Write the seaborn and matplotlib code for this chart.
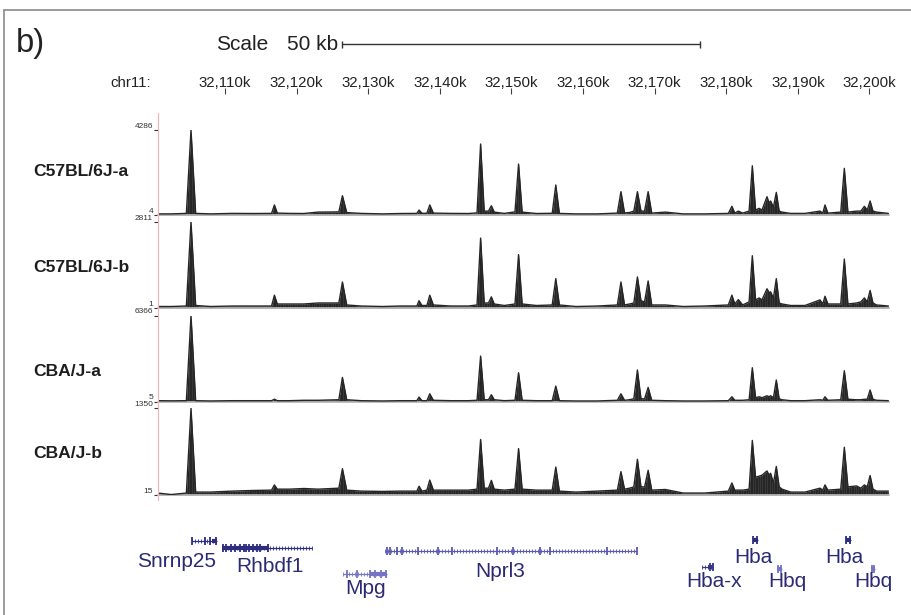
import numpy as np
import matplotlib
matplotlib.use("Agg")
import matplotlib.pyplot as plt
import seaborn as sns
from matplotlib.lines import Line2D

sns.set_theme(style="white")
plt.rcParams["font.family"] = ["Liberation Sans", "DejaVu Sans"]

# ---------------- data ----------------
# coverage profile knots along chr11 (kb)
pos_kb = [32100.6, 32102.5, 32104.6, 32105.25, 32105.9, 32108.0, 32111.0, 32114.0,
          32116.5, 32116.9, 32117.3, 32119.0, 32121.0, 32123.0, 32125.9, 32126.4,
          32127.0, 32129.0, 32132.0, 32134.5, 32136.8, 32137.1, 32137.5, 32138.2,
          32138.6, 32139.1, 32141.5, 32144.0, 32145.2, 32145.7, 32146.2, 32146.8,
          32147.2, 32147.6, 32149.0, 32150.5, 32151.0, 32151.5, 32153.5, 32155.7,
          32156.2, 32156.7, 32159.0, 32162.0, 32164.8, 32165.3, 32165.8, 32166.5,
          32167.1, 32167.6, 32168.1, 32168.6, 32169.1, 32169.6, 32171.5, 32174.0,
          32177.0, 32180.3, 32180.8, 32181.2, 32181.7, 32182.3, 32183.2, 32183.65,
          32184.1, 32184.6, 32185.0, 32185.7, 32186.0, 32186.2, 32186.6, 32187.0,
          32187.4, 32187.8, 32189.0, 32191.0, 32193.1, 32193.5, 32193.8, 32194.2,
          32196.0, 32196.5, 32197.0, 32198.2, 32198.8, 32199.3, 32199.7, 32200.1,
          32200.5, 32201.0, 32202.65]

c57_a = [60, 60, 85, 4286, 85, 60, 85, 80,
         85, 510, 100, 85, 80, 150, 160, 975,
         125, 85, 60, 80, 85, 255, 90, 90,
         510, 100, 85, 80, 110, 3580, 200, 200,
         470, 150, 85, 160, 2570, 150, 80, 90,
         1515, 85, 60, 60, 100, 1180, 110, 130,
         200, 1180, 200, 200, 1180, 100, 150, 60,
         60, 85, 440, 100, 200, 100, 200, 2485,
         250, 340, 250, 925, 600, 710, 400, 1145,
         200, 150, 85, 85, 200, 100, 510, 100,
         150, 2355, 150, 200, 200, 440, 250, 710,
         200, 150, 85]

c57_b = [50, 50, 66, 2811, 83, 50, 66, 66,
         66, 420, 132, 132, 132, 165, 165, 850,
         100, 66, 50, 66, 66, 240, 83, 83,
         420, 100, 66, 66, 100, 2285, 165, 165,
         365, 132, 83, 132, 1745, 132, 83, 100,
         960, 100, 50, 66, 100, 850, 100, 132,
         165, 1015, 240, 200, 885, 100, 100, 50,
         66, 100, 420, 132, 275, 100, 200, 1710,
         265, 330, 265, 630, 500, 530, 330, 960,
         165, 132, 83, 83, 265, 132, 385, 132,
         132, 1600, 132, 165, 200, 330, 200, 575,
         165, 100, 66]

cba_a = [80, 70, 80, 6366, 80, 60, 80, 80,
         80, 190, 80, 80, 110, 110, 150, 1800,
         150, 80, 60, 80, 80, 350, 80, 80,
         590, 110, 80, 80, 110, 3380, 150, 150,
         520, 150, 80, 110, 2145, 110, 80, 80,
         1160, 80, 60, 60, 110, 590, 110, 150,
         220, 2350, 220, 220, 1060, 110, 80, 60,
         60, 80, 370, 110, 110, 110, 150, 2520,
         300, 370, 300, 445, 370, 445, 300, 1610,
         220, 150, 80, 80, 150, 110, 370, 110,
         150, 2295, 185, 150, 150, 185, 185, 870,
         185, 110, 80]

cba_b = [45, 22, 45, 1350, 60, 60, 75, 85,
         90, 170, 105, 105, 115, 105, 120, 420,
         90, 75, 70, 75, 75, 150, 75, 90,
         245, 90, 90, 90, 105, 870, 120, 120,
         240, 105, 90, 105, 730, 105, 90, 90,
         445, 75, 60, 75, 90, 375, 105, 120,
         140, 565, 140, 140, 395, 90, 100, 45,
         45, 75, 200, 90, 90, 90, 105, 855,
         290, 305, 320, 385, 320, 350, 200, 455,
         140, 105, 60, 60, 120, 90, 170, 90,
         105, 750, 140, 155, 120, 170, 140, 315,
         105, 75, 75]

track_names = ["C57BL/6J-a", "C57BL/6J-b", "CBA/J-a", "CBA/J-b"]
track_values = [c57_a, c57_b, cba_a, cba_b]
track_min = [4, 1, 5, 15]
track_max = [4286, 2811, 6366, 1350]

tick_kb = [32110, 32120, 32130, 32140, 32150, 32160, 32170, 32180, 32190, 32200]
tick_labels = ["32,110k", "32,120k", "32,130k", "32,140k", "32,150k",
               "32,160k", "32,170k", "32,180k", "32,190k", "32,200k"]
view_kb = (32100.64, 32202.67)
scale_start_kb = 32126.4
scale_len_kb = 50

gene_names = ["Snrnp25", "Rhbdf1", "Mpg", "Nprl3", "Hba-x", "Hba", "Hbq", "Hba", "Hbq"]
gene_start = [32105.4, 32109.6, 32126.5, 32132.3, 32176.6, 32183.7, 32187.1, 32196.7, 32200.2]
gene_end = [32108.9, 32122.2, 32132.6, 32167.5, 32178.2, 32184.4, 32187.8, 32197.4, 32200.8]
gene_thick = [(32108.2, 32108.9), (32109.6, 32116.2), (32130.2, 32132.6), None,
              (32177.5, 32178.2), (32183.7, 32184.4), (32187.1, 32187.8),
              (32196.7, 32197.4), (32200.2, 32200.8)]
gene_exons = [
    [32105.4, 32107.2, 32107.9, 32108.7],
    [32109.7, 32110.2, 32110.9, 32111.4, 32112.1, 32112.6, 32113.0, 32113.4,
     32113.9, 32114.4, 32114.9, 32116.0],
    [32127.0, 32128.5, 32130.3, 32131.0, 32131.8, 32132.5],
    [32132.6, 32133.0, 32134.0, 32134.7, 32137.0, 32139.8, 32141.7, 32148.0,
     32150.2, 32154.0, 32155.4, 32163.3, 32167.5],
    [32177.7, 32178.1],
    [32183.8, 32184.3],
    [32187.2, 32187.7],
    [32196.8, 32197.3],
    [32200.3, 32200.7],
]

# ---------------- layout (pixels) ----------------
W, H = 911, 615
X0, X1 = 158, 888.5
track_px = [(130, 215), (222, 308), (315.7, 401.7), (408.3, 495)]
track_label_y = [172, 268, 372, 454]
gene_row_y = [541, 548, 574, 551, 567, 540, 569, 540, 569]
gene_label_xy = [(177, 566.7), (270, 571.7), (365.5, 594.3), (500, 576.7),
                 (714, 587.3), (753.5, 563.3), (787, 587.3), (844, 563.3), (873.5, 587.3)]
gene_colors = ["#2e2e80", "#2e2e80", "#7474c4", "#5a5ab2", "#34348a",
               "#2e2e80", "#7474c4", "#2e2e80", "#7474c4"]
label_navy = "#2b2b75"
fill_color = "#262626"

fig = plt.figure(figsize=(W / 100, H / 100), dpi=100)


def fx(x):
    return x / W


def fy(y):
    return 1 - y / H


def px_axes(x0, y0, x1, y1):
    return fig.add_axes([fx(x0), fy(y1), (x1 - x0) / W, (y1 - y0) / H])


# outer frame (top and left edges)
fig.add_artist(Line2D([fx(4), fx(W)], [fy(10), fy(10)], color="#8a8a8a", lw=1.2))
fig.add_artist(Line2D([fx(4), fx(4)], [fy(10), fy(H)], color="#8a8a8a", lw=1.2))

# header: panel letter, scale bar, coordinate ruler
fig.text(fx(16), fy(52), "b)", fontsize=23.5, color="#222222", va="baseline", ha="left")
fig.text(fx(216), fy(50), "Scale", fontsize=15, color="#222222", va="baseline", ha="left")
fig.text(fx(287), fy(50), "50 kb", fontsize=15, color="#222222", va="baseline", ha="left")
fig.text(fx(110), fy(86.7), "chr11:", fontsize=10.8, color="#222222", va="baseline", ha="left")

hdr = px_axes(X0, 0, X1, 110)
hdr.set_xlim(*view_kb)
hdr.set_ylim(110, 0)
hdr.axis("off")
hdr.plot([scale_start_kb, scale_start_kb + scale_len_kb], [44, 44], color="#333333", lw=1.0,
         clip_on=False)
hdr.vlines([scale_start_kb, scale_start_kb + scale_len_kb], 40.5, 47.5, color="#333333", lw=1.0,
           clip_on=False)
hdr.vlines(tick_kb, 88, 94, color="#444444", lw=0.8)
for k, lab in zip(tick_kb, tick_labels):
    hdr.text(k, 86.7, lab, fontsize=10.8, color="#222222", ha="center", va="baseline")

# coverage tracks
stripe_x = np.arange(view_kb[0], view_kb[1], 0.335)
for (ty0, ty1), name, vals, vmin, vmax, ly in zip(track_px, track_names, track_values,
                                                  track_min, track_max, track_label_y):
    assert len(vals) == len(pos_kb)
    ax = px_axes(X0, ty0, X1, ty1)
    ax.set_xlim(*view_kb)
    ax.set_ylim(vmin, vmax)
    poly = ax.fill_between(pos_kb, vmin, vals, color=fill_color, lw=0, zorder=2)
    stripes = ax.vlines(stripe_x, vmin, vmax, colors="white", lw=0.4, alpha=0.14, zorder=3)
    stripes.set_clip_path(poly.get_paths()[0], ax.transData)
    sns.lineplot(x=pos_kb, y=vals, ax=ax, color=fill_color, lw=1.0, zorder=4)
    ax.set_xlabel("")
    ax.set_ylabel("")
    ax.set_xticks([])
    ax.set_yticks([vmin, vmax])
    ax.set_yticklabels([])
    ax.tick_params(axis="y", left=True, direction="out", length=3, width=0.8, color="#333333")
    for s in ("top", "right", "left"):
        ax.spines[s].set_visible(False)
    ax.spines["bottom"].set_color("#bdbdbd")
    ax.spines["bottom"].set_linewidth(1.2)
    ax.patch.set_alpha(0)
    for v in (vmin, vmax):
        ax.annotate(str(v), xy=(0, v), xycoords=("axes fraction", "data"),
                    xytext=(-3.6, 0.3), textcoords="offset points",
                    ha="right", va="bottom", fontsize=6, color="#333333")
    fig.text(fx(33), fy(ly), name, fontsize=12.6, fontweight="bold", color="#1e1e1e",
             ha="left", va="center")

# base-position guide line
fig.add_artist(Line2D([fx(X0), fx(X0)], [fy(113), fy(500)], color="#f0b4b4", lw=0.8))

# gene annotation track
gax = px_axes(X0, 515, X1, H)
gax.set_xlim(*view_kb)
gax.set_ylim(H, 515)
gax.axis("off")
for name, s, e, thick, exons, ry, col, (lx, ly) in zip(gene_names, gene_start, gene_end,
                                                      gene_thick, gene_exons, gene_row_y,
                                                      gene_colors, gene_label_xy):
    gax.plot([s, e], [ry, ry], color=col, lw=0.9, solid_capstyle="butt")
    marks = np.arange(s, e, 0.42)
    gax.plot(marks, [ry] * len(marks), ls="none", marker="|", ms=2.6, mew=0.6, color=col)
    if thick is not None:
        gax.plot(list(thick), [ry, ry], color=col, lw=3.0, solid_capstyle="butt")
    gax.plot(exons, [ry] * len(exons), ls="none", marker="|", ms=5.5, mew=1.3, color=col)
    fig.text(fx(lx), fy(ly), name, fontsize=15, color=label_navy, ha="center", va="baseline")

fig.savefig("out.png", dpi=100)
